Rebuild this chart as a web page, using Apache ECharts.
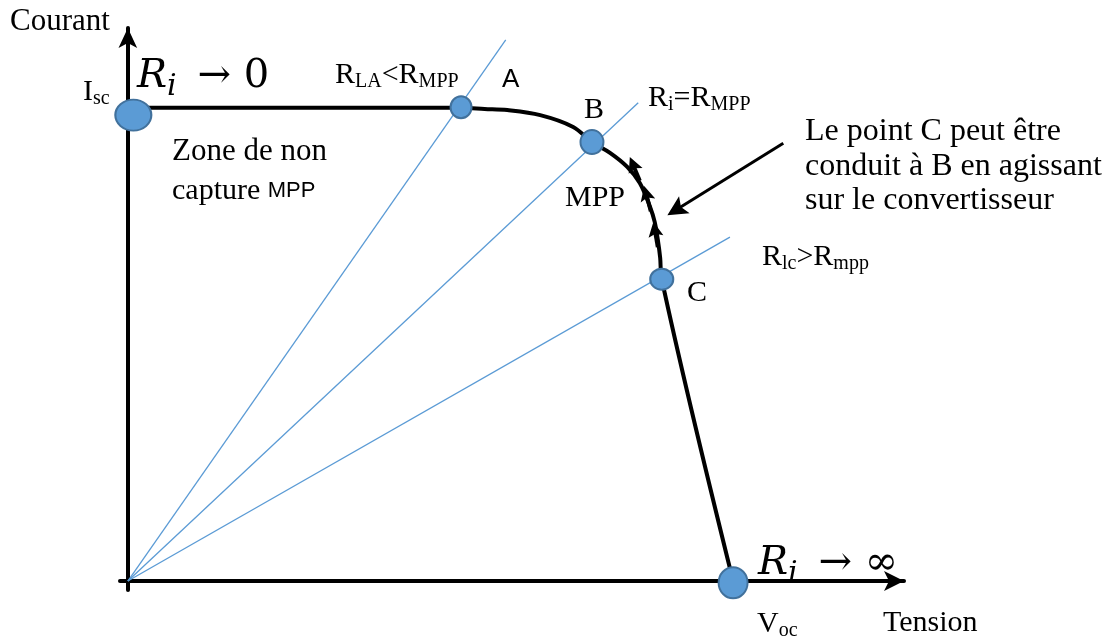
<!DOCTYPE html>
<html>
<head>
<meta charset="utf-8">
<script src="https://cdn.jsdelivr.net/npm/echarts@6/dist/echarts.min.js"></script>
<style>
  html, body { margin: 0; padding: 0; background: #fff; }
  #main { width: 1110px; height: 644px; }
</style>
</head>
<body>
<div id="main"></div>
<script>
// courbe I-V du panneau (unités arbitraires)
var tension = [0, 42.5, 45.5, 48.4, 52.6, 56.8, 59.2, 61.5, 63.7, 65.3, 66.6, 67.2, 67.6, 67.9, 68.1, 77.2];
var courant = [84.2, 84.2, 84.0, 83.8, 82.9, 80.8, 78.1, 76.2, 73.7, 70.8, 66.6, 63.9, 60.7, 57.5, 53.7, 0];

// points remarquables : Isc, A, B, C, Voc
var pointNoms = ['Isc', 'A', 'B', 'C', 'Voc'];
var pointV = [0.7, 42.5, 59.2, 68.1, 77.2];
var pointI = [82.9, 84.3, 78.1, 53.7, -0.3];

// droites de charge partant de l'origine (extrémité)
var chargeNoms = ['RLA', 'Ri=RMPP', 'Rlc'];
var chargeV = [48.2, 65.1, 76.8];
var chargeI = [96.3, 85.1, 61.2];

// petites flèches sur la courbe (de -> vers)
var flecheDe = [[65.3, 71.2], [66.7, 65.8], [67.6, 59.4]];
var flecheVers = [[64.4, 74.2], [66.1, 69.0], [67.2, 62.6]];

// flèche vers la courbe
var flecheExtDe = [83.6, 77.9];
var flecheExtVers = [69.9, 66.0];

var chart = echarts.init(document.getElementById('main'));

var serif = '"Liberation Serif", "Times New Roman", serif';
var math = '"DejaVu Serif", serif';
var sans = '"Liberation Sans", Arial, sans-serif';
var bleu = '#5B9BD5';
var ellipse = 'path://M0,50A50,50,0,1,1,100,50A50,50,0,1,1,0,50Z';
var pointe = 'path://M10,0L20,20L10,16L0,20Z';
var taillesPoints = [[36, 31], [21, 22], [23, 24], [23, 21], [29, 31]];

var riche = {
    m: { fontFamily: serif, fontSize: 30, lineHeight: 34, fill: '#000' },
    s: { fontFamily: serif, fontSize: 20, lineHeight: 24, verticalAlign: 'bottom', fill: '#000' },
    sa: { fontFamily: sans, fontSize: 22, lineHeight: 34, fill: '#000' },
    big: { fontFamily: math, fontSize: 40, lineHeight: 50, fontStyle: 'italic', fill: '#000' },
    bi: { fontFamily: math, fontSize: 30, lineHeight: 20, fontStyle: 'italic', verticalAlign: 'bottom',
          padding: [0, 8, 0, 0], fill: '#000' },
    bn: { fontFamily: math, fontSize: 40, lineHeight: 50, fill: '#000' }
};

function texte(x, y, txt, font) {
    return {
        type: 'text', x: x, y: y, silent: true,
        style: {
            text: txt, rich: riche, font: font || ('30px ' + serif),
            fill: '#000', align: 'left', verticalAlign: 'middle'
        }
    };
}

var series = [];

chargeV.forEach(function (v, k) {
    series.push({
        name: chargeNoms[k], type: 'line', silent: true, symbol: 'none',
        data: [[0, 0], [v, chargeI[k]]],
        lineStyle: { color: bleu, width: 1.3 }, z: 2
    });
});

series.push({
    name: 'I-V', type: 'line', silent: true, symbol: 'none', smooth: 0.35,
    data: tension.map(function (v, k) { return [v, courant[k]]; }),
    lineStyle: { color: '#000', width: 4, join: 'round' }, z: 3
});

series.push({
    type: 'lines', coordinateSystem: 'cartesian2d', silent: true,
    symbol: ['none', pointe], symbolSize: [0, 15],
    data: flecheDe.map(function (d, k) { return { coords: [d, flecheVers[k]] }; }),
    lineStyle: { color: '#000', width: 4, opacity: 1 }, z: 4
});

series.push({
    type: 'lines', coordinateSystem: 'cartesian2d', silent: true,
    symbol: ['none', pointe], symbolSize: [0, 20],
    data: [{ coords: [flecheExtDe, flecheExtVers] }],
    lineStyle: { color: '#000', width: 3, opacity: 1 }, z: 4
});

series.push({
    type: 'scatter', silent: true, symbol: ellipse,
    data: pointV.map(function (v, k) {
        return { name: pointNoms[k], value: [v, pointI[k]], symbolSize: taillesPoints[k] };
    }),
    itemStyle: { color: bleu, borderColor: '#41719C', borderWidth: 2, opacity: 1 },
    z: 5
});

var option = {
    animation: false,
    backgroundColor: '#fff',
    grid: { left: 120, right: 206, top: 28, bottom: 54, outerBoundsMode: 'none' },
    xAxis: {
        type: 'value', min: -1, max: 99,
        axisLine: {
            show: true, onZero: true, symbol: ['none', 'arrow'], symbolSize: [15, 20],
            lineStyle: { color: '#000', width: 4 }
        },
        axisTick: { show: false }, axisLabel: { show: false }, splitLine: { show: false }
    },
    yAxis: {
        type: 'value', min: -1.6, max: 98.4,
        axisLine: {
            show: true, onZero: true, symbol: ['none', 'arrow'], symbolSize: [14, 20],
            lineStyle: { color: '#000', width: 4 }
        },
        axisTick: { show: false }, axisLabel: { show: false }, splitLine: { show: false }
    },
    series: series,
    graphic: [
        texte(10, 22, 'Courant', '31px ' + serif),
        texte(883, 623, 'Tension'),
        texte(83, 92, '{m|I}{s|sc}'),
        texte(757, 624, '{m|V}{s|oc}'),
        texte(137, 77, '{big|R}{bi|i}{bn| \u2192 0}'),
        texte(758, 564, '{big|R}{bi|i}{bn| \u2192 \u221e}'),
        texte(335, 75, '{m|R}{s|LA}{m|<R}{s|MPP}'),
        texte(648, 98, '{m|R}{s|i}{m|=R}{s|MPP}'),
        texte(762, 257, '{m|R}{s|lc}{m|>R}{s|mpp}'),
        texte(502, 80, 'A', '26px ' + sans),
        texte(584, 110, 'B'),
        texte(687, 293, 'C'),
        texte(565, 198, 'MPP'),
        texte(172, 152, 'Zone de non', '31px ' + serif),
        texte(172, 191, '{m|capture }{sa|MPP}'),
        texte(805, 132, 'Le point C peut être', '32px ' + serif),
        texte(805, 167, 'conduit à B en agissant', '32px ' + serif),
        texte(805, 201, 'sur le convertisseur', '32px ' + serif)
    ]
};

chart.setOption(option);
window.addEventListener('resize', function () {
    chart.resize();
});
</script>
</body>
</html>
